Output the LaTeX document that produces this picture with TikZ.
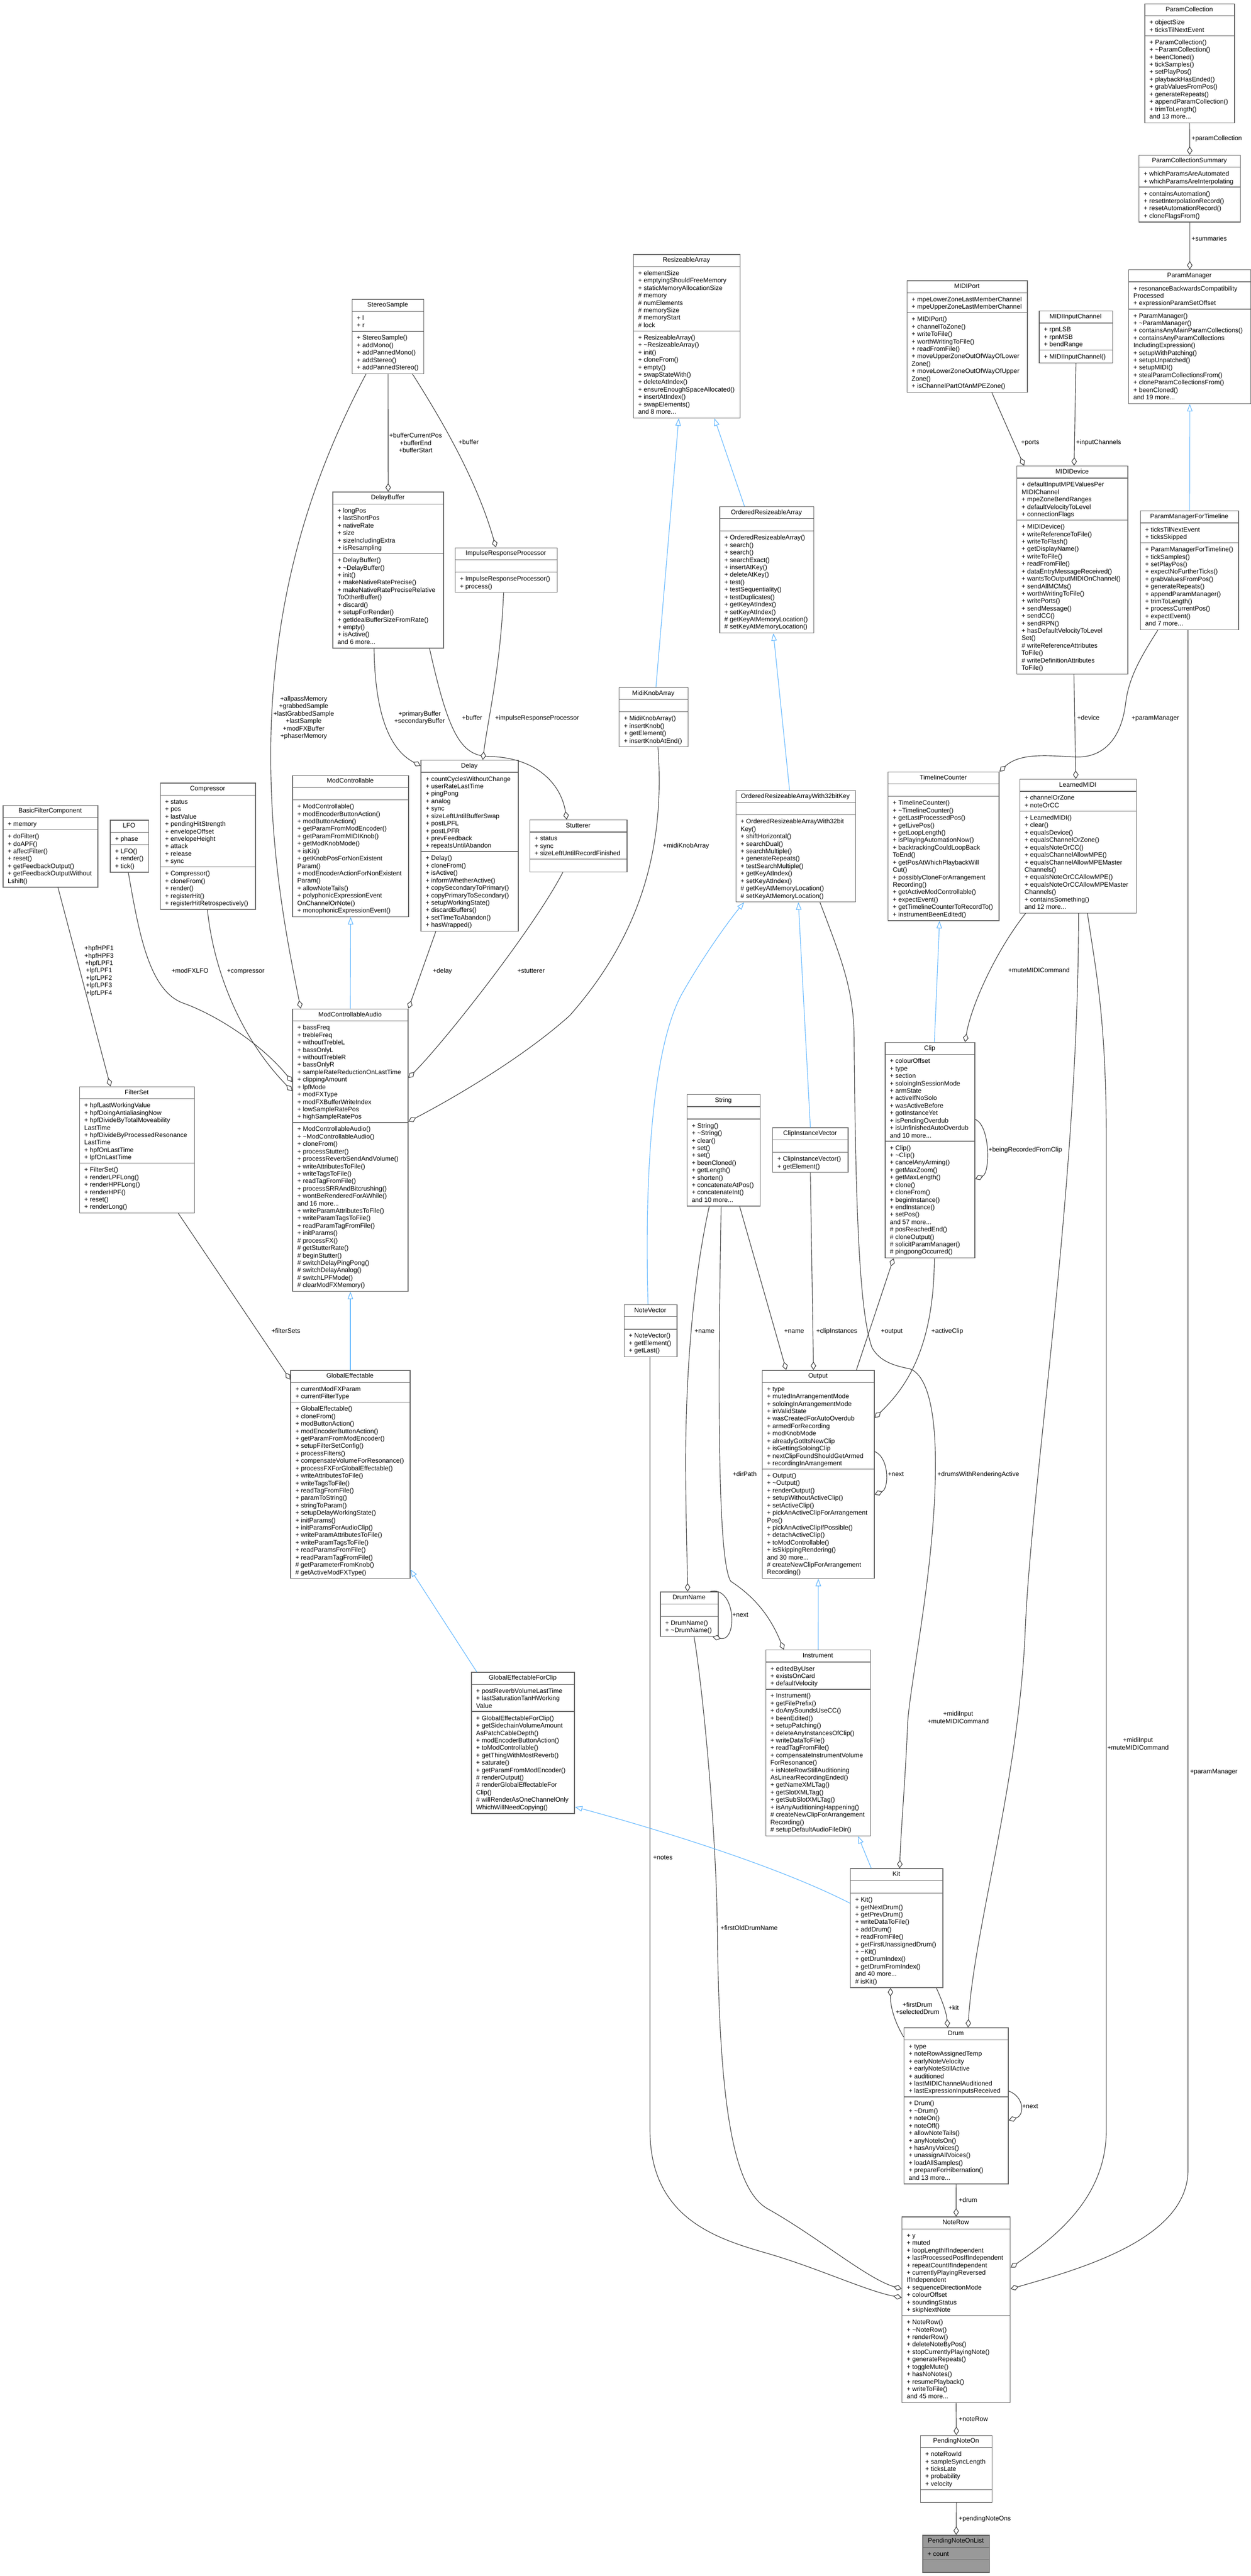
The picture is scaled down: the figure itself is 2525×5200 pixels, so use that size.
\documentclass[tikz,border=0pt]{standalone}
\usepackage{fontspec}
\setmainfont{Liberation Sans}
\usetikzlibrary{arrows.meta,calc}
\definecolor{boxgray}{HTML}{666666}
\definecolor{edgegray}{HTML}{404040}
\definecolor{inhblue}{HTML}{63B8FF}
\definecolor{fillgray}{HTML}{999999}
\newcommand\tld{\textasciitilde}
\tikzset{
  clsbox/.style={draw=boxgray, fill=white, line width=1.4pt, inner sep=0pt, rectangle},
  sepline/.style={draw=boxgray, line width=1.4pt},
  ttl/.style={font=\fontsize{13}{15}\selectfont, inner sep=0pt, text height=9.5pt, text depth=2.5pt, anchor=center},
  mbr/.style={font=\fontsize{13}{15}\selectfont, inner sep=0pt, align=left, anchor=north west},
  agg/.style={draw=edgegray, line width=1.2pt, -{Diamond[fill=white, length=17pt, width=11pt]}},
  inh/.style={draw=inhblue, line width=1.2pt, -{Triangle[fill=white, length=15pt, width=11pt]}},
  lbl/.style={font=\fontsize{13}{15}\selectfont, inner sep=0pt, text height=9.5pt, text depth=2.5pt},
  lblm/.style={font=\fontsize{13}{15}\selectfont, inner sep=0pt, align=center},
}
% #1 id, #2 x, #3 y, #4 w, #5 title, #6 n attr, #7 attrs, #8 n meth, #9 methods
\newcommand\ucls[9]{%
  \pgfmathsetmacro\uha{15*max(#6,1)+10}%
  \pgfmathsetmacro\uhm{15*max(#8,1)+10}%
  \pgfmathsetmacro\uht{25+\uha+\uhm}%
  \node[clsbox, minimum width=#4, minimum height=\uht, anchor=north west] (#1) at (#2,#3) {};
  \draw[sepline] (#2,#3+25) -- ++(#4,0);
  \draw[sepline] (#2,#3+25+\uha) -- ++(#4,0);
  \node[ttl] (#1-t) at (#2+#4/2,#3+12.5) {#5};
  \node[mbr] (#1-a) at (#2+10,#3+30.5) {\rule{0pt}{12pt}#7};
  \node[mbr] (#1-m) at (#2+10,#3+30.5+\uha) {\rule{0pt}{12pt}#9};
}
\begin{document}
\begin{tikzpicture}[x=1pt,y=-1pt]
\fill[white] (0,0) rectangle (2525,5200);
\useasboundingbox (0,0) rectangle (2525,5200);

% ---------------- classes ----------------
\ucls{pc}{2310}{7}{181}{ParamCollection}{2}{+ objectSize\\+ ticksTilNextEvent}{11}{+ ParamCollection()\\+ \tld ParamCollection()\\+ beenCloned()\\+ tickSamples()\\+ setPlayPos()\\+ playbackHasEnded()\\+ grabValuesFromPos()\\+ generateRepeats()\\+ appendParamCollection()\\+ trimToLength()\\and 13 more...}
\ucls{pcs}{2298.5}{312.6}{204.5}{ParamCollectionSummary}{2}{+ whichParamsAreAutomated\\+ whichParamsAreInterpolating}{4}{+ containsAutomation()\\+ resetInterpolationRecord()\\+ resetAutomationRecord()\\+ cloneFlagsFrom()}
\ucls{pm}{2277.6}{544}{246.4}{ParamManager}{3}{+ resonanceBackwardsCompatibility\\Processed\\+ expressionParamSetOffset}{12}{+ ParamManager()\\+ \tld ParamManager()\\+ containsAnyMainParamCollections()\\+ containsAnyParamCollections\\IncludingExpression()\\+ setupWithPatching()\\+ setupUnpatched()\\+ setupMIDI()\\+ stealParamCollectionsFrom()\\+ cloneParamCollectionsFrom()\\+ beenCloned()\\and 19 more...}
\ucls{pmt}{2301.4}{1030.7}{198.2}{ParamManagerForTimeline}{2}{+ ticksTilNextEvent\\+ ticksSkipped}{11}{+ ParamManagerForTimeline()\\+ tickSamples()\\+ setPlayPos()\\+ expectNoFurtherTicks()\\+ grabValuesFromPos()\\+ generateRepeats()\\+ appendParamManager()\\+ trimToLength()\\+ processCurrentPos()\\+ expectEvent()\\and 7 more...}
\ucls{mport}{1830}{566}{243}{MIDIPort}{2}{+ mpeLowerZoneLastMemberChannel\\+ mpeUpperZoneLastMemberChannel}{10}{+ MIDIPort()\\+ channelToZone()\\+ writeToFile()\\+ worthWritingToFile()\\+ readFromFile()\\+ moveUpperZoneOutOfWayOfLower\\Zone()\\+ moveLowerZoneOutOfWayOfUpper\\Zone()\\+ isChannelPartOfAnMPEZone()}
\ucls{mic}{2097}{627}{148}{MIDIInputChannel}{3}{+ rpnLSB\\+ rpnMSB\\+ bendRange}{1}{+ MIDIInputChannel()}
\ucls{mdev}{2052}{940}{224}{MIDIDevice}{5}{+ defaultInputMPEValuesPer\\MIDIChannel\\+ mpeZoneBendRanges\\+ defaultVelocityToLevel\\+ connectionFlags}{20}{+ MIDIDevice()\\+ writeReferenceToFile()\\+ writeToFlash()\\+ getDisplayName()\\+ writeToFile()\\+ readFromFile()\\+ dataEntryMessageReceived()\\+ wantsToOutputMIDIOnChannel()\\+ sendAllMCMs()\\+ worthWritingToFile()\\+ writePorts()\\+ sendMessage()\\+ sendCC()\\+ sendRPN()\\+ hasDefaultVelocityToLevel\\Set()\\\# writeReferenceAttributes\\ToFile()\\\# writeDefinitionAttributes\\ToFile()}
\ucls{lmidi}{2058}{1572.4}{235}{LearnedMIDI}{2}{+ channelOrZone\\+ noteOrCC}{13}{+ LearnedMIDI()\\+ clear()\\+ equalsDevice()\\+ equalsChannelOrZone()\\+ equalsNoteOrCC()\\+ equalsChannelAllowMPE()\\+ equalsChannelAllowMPEMaster\\Channels()\\+ equalsNoteOrCCAllowMPE()\\+ equalsNoteOrCCAllowMPEMaster\\Channels()\\+ containsSomething()\\and 12 more...}
\ucls{tc}{1792}{1557.6}{224}{TimelineCounter}{0}{}{16}{+ TimelineCounter()\\+ \tld TimelineCounter()\\+ getLastProcessedPos()\\+ getLivePos()\\+ getLoopLength()\\+ isPlayingAutomationNow()\\+ backtrackingCouldLoopBack\\ToEnd()\\+ getPosAtWhichPlaybackWill\\Cut()\\+ possiblyCloneForArrangement\\Recording()\\+ getActiveModControllable()\\+ expectEvent()\\+ getTimelineCounterToRecordTo()\\+ instrumentBeenEdited()}
\ucls{ra}{1278}{513}{215}{ResizeableArray}{8}{+ elementSize\\+ emptyingShouldFreeMemory\\+ staticMemoryAllocationSize\\\# memory\\\# numElements\\\# memorySize\\\# memoryStart\\\# lock}{11}{+ ResizeableArray()\\+ \tld ResizeableArray()\\+ init()\\+ cloneFrom()\\+ empty()\\+ swapStateWith()\\+ deleteAtIndex()\\+ ensureEnoughSpaceAllocated()\\+ insertAtIndex()\\+ swapElements()\\and 8 more...}
\ucls{ora}{1452}{1022}{190}{OrderedResizeableArray}{0}{}{13}{+ OrderedResizeableArray()\\+ search()\\+ search()\\+ searchExact()\\+ insertAtKey()\\+ deleteAtKey()\\+ test()\\+ testSequentiality()\\+ testDuplicates()\\+ getKeyAtIndex()\\+ setKeyAtIndex()\\\# getKeyAtMemoryLocation()\\\# setKeyAtMemoryLocation()}
\ucls{mka}{1249}{1387}{139}{MidiKnobArray}{0}{}{4}{+ MidiKnobArray()\\+ insertKnob()\\+ getElement()\\+ insertKnobAtEnd()}
\ucls{oraw}{1484.7}{1595}{241.3}{OrderedResizeableArrayWith32bitKey}{0}{}{11}{+ OrderedResizeableArrayWith32bit\\Key()\\+ shiftHorizontal()\\+ searchDual()\\+ searchMultiple()\\+ generateRepeats()\\+ testSearchMultiple()\\+ getKeyAtIndex()\\+ setKeyAtIndex()\\\# getKeyAtMemoryLocation()\\\# setKeyAtMemoryLocation()}
\ucls{ss}{710}{603.6}{145}{StereoSample}{2}{+ l\\+ r}{5}{+ StereoSample()\\+ addMono()\\+ addPannedMono()\\+ addStereo()\\+ addPannedStereo()}
\ucls{db}{671}{992.6}{223.6}{DelayBuffer}{6}{+ longPos\\+ lastShortPos\\+ nativeRate\\+ size\\+ sizeIncludingExtra\\+ isResampling}{12}{+ DelayBuffer()\\+ \tld DelayBuffer()\\+ init()\\+ makeNativeRatePrecise()\\+ makeNativeRatePreciseRelative\\ToOtherBuffer()\\+ discard()\\+ setupForRender()\\+ getIdealBufferSizeFromRate()\\+ empty()\\+ isActive()\\and 6 more...}
\ucls{irp}{918}{1105}{206}{ImpulseResponseProcessor}{0}{}{2}{+ ImpulseResponseProcessor()\\+ process()}
\ucls{delay}{849}{1534}{196.5}{Delay}{10}{+ countCyclesWithoutChange\\+ userRateLastTime\\+ pingPong\\+ analog\\+ sync\\+ sizeLeftUntilBufferSwap\\+ postLPFL\\+ postLPFR\\+ prevFeedback\\+ repeatsUntilAbandon}{10}{+ Delay()\\+ cloneFrom()\\+ isActive()\\+ informWhetherActive()\\+ copySecondaryToPrimary()\\+ copyPrimaryToSecondary()\\+ setupWorkingState()\\+ discardBuffers()\\+ setTimeToAbandon()\\+ hasWrapped()}
\ucls{stut}{1069}{1654.5}{196}{Stutterer}{3}{+ status\\+ sync\\+ sizeLeftUntilRecordFinished}{0}{}
\ucls{mc}{590}{1564.7}{234}{ModControllable}{0}{}{15}{+ ModControllable()\\+ modEncoderButtonAction()\\+ modButtonAction()\\+ getParamFromModEncoder()\\+ getParamFromMIDIKnob()\\+ getModKnobMode()\\+ isKit()\\+ getKnobPosForNonExistent\\Param()\\+ modEncoderActionForNonExistent\\Param()\\+ allowNoteTails()\\+ polyphonicExpressionEvent\\OnChannelOrNote()\\+ monophonicExpressionEvent()}
\ucls{comp}{323}{1580}{192}{Compressor}{9}{+ status\\+ pos\\+ lastValue\\+ pendingHitStrength\\+ envelopeOffset\\+ envelopeHeight\\+ attack\\+ release\\+ sync}{5}{+ Compressor()\\+ cloneFrom()\\+ render()\\+ registerHit()\\+ registerHitRetrospectively()}
\ucls{lfo}{222}{1655}{77}{LFO}{1}{+ phase}{3}{+ LFO()\\+ render()\\+ tick()}
\ucls{bfc}{5.6}{1625}{191.4}{BasicFilterComponent}{1}{+ memory}{7}{+ doFilter()\\+ doAPF()\\+ affectFilter()\\+ reset()\\+ getFeedbackOutput()\\+ getFeedbackOutputWithout\\Lshift()}
\ucls{mca}{590}{2036}{233}{ModControllableAudio}{13}{+ bassFreq\\+ trebleFreq\\+ withoutTrebleL\\+ bassOnlyL\\+ withoutTrebleR\\+ bassOnlyR\\+ sampleRateReductionOnLastTime\\+ clippingAmount\\+ lpfMode\\+ modFXType\\+ modFXBufferWriteIndex\\+ lowSampleRatePos\\+ highSampleRatePos}{22}{+ ModControllableAudio()\\+ \tld ModControllableAudio()\\+ cloneFrom()\\+ processStutter()\\+ processReverbSendAndVolume()\\+ writeAttributesToFile()\\+ writeTagsToFile()\\+ readTagFromFile()\\+ processSRRAndBitcrushing()\\+ wontBeRenderedForAWhile()\\and 16 more...\\+ writeParamAttributesToFile()\\+ writeParamTagsToFile()\\+ readParamTagFromFile()\\+ initParams()\\\# processFX()\\\# getStutterRate()\\\# beginStutter()\\\# switchDelayPingPong()\\\# switchDelayAnalog()\\\# switchLPFMode()\\\# clearModFXMemory()}
\ucls{fs}{160}{2193}{232}{FilterSet}{8}{+ hpfLastWorkingValue\\+ hpfDoingAntialiasingNow\\+ hpfDivideByTotalMoveability\\LastTime\\+ hpfDivideByProcessedResonance\\LastTime\\+ hpfOnLastTime\\+ lpfOnLastTime}{6}{+ FilterSet()\\+ renderLPFLong()\\+ renderHPFLong()\\+ renderHPF()\\+ reset()\\+ renderLong()}
\ucls{ge}{586}{2765.6}{241}{GlobalEffectable}{2}{+ currentModFXParam\\+ currentFilterType}{23}{+ GlobalEffectable()\\+ cloneFrom()\\+ modButtonAction()\\+ modEncoderButtonAction()\\+ getParamFromModEncoder()\\+ setupFilterSetConfig()\\+ processFilters()\\+ compensateVolumeForResonance()\\+ processFXForGlobalEffectable()\\+ writeAttributesToFile()\\+ writeTagsToFile()\\+ readTagFromFile()\\+ paramToString()\\+ stringToParam()\\+ setupDelayWorkingState()\\+ initParams()\\+ initParamsForAudioClip()\\+ writeParamAttributesToFile()\\+ writeParamTagsToFile()\\+ readParamsFromFile()\\+ readParamTagFromFile()\\\# getParameterFromKnob()\\\# getActiveModFXType()}
\ucls{gefc}{951}{3375}{208}{GlobalEffectableForClip}{3}{+ postReverbVolumeLastTime\\+ lastSaturationTanHWorking\\Value}{13}{+ GlobalEffectableForClip()\\+ getSidechainVolumeAmount\\AsPatchCableDepth()\\+ modEncoderButtonAction()\\+ toModControllable()\\+ getThingWithMostReverb()\\+ saturate()\\+ getParamFromModEncoder()\\\# renderOutput()\\\# renderGlobalEffectableFor\\Clip()\\\# willRenderAsOneChannelOnly\\WhichWillNeedCopying()}
\ucls{out}{1538}{2765.5}{226}{Output}{11}{+ type\\+ mutedInArrangementMode\\+ soloingInArrangementMode\\+ inValidState\\+ wasCreatedForAutoOverdub\\+ armedForRecording\\+ modKnobMode\\+ alreadyGotItsNewClip\\+ isGettingSoloingClip\\+ nextClipFoundShouldGetArmed\\+ recordingInArrangement}{14}{+ Output()\\+ \tld Output()\\+ renderOutput()\\+ setupWithoutActiveClip()\\+ setActiveClip()\\+ pickAnActiveClipForArrangement\\Pos()\\+ pickAnActiveClipIfPossible()\\+ detachActiveClip()\\+ toModControllable()\\+ isSkippingRendering()\\and 30 more...\\\# createNewClipForArrangement\\Recording()}
\ucls{str}{1386}{2209}{148}{String}{0}{}{11}{+ String()\\+ \tld String()\\+ clear()\\+ set()\\+ set()\\+ beenCloned()\\+ getLength()\\+ shorten()\\+ concatenateAtPos()\\+ concatenateInt()\\and 10 more...}
\ucls{civ}{1559}{2276}{152}{ClipInstanceVector}{0}{}{2}{+ ClipInstanceVector()\\+ getElement()}
\ucls{clip}{1786}{2103.6}{181}{Clip}{11}{+ colourOffset\\+ type\\+ section\\+ soloingInSessionMode\\+ armState\\+ activeIfNoSolo\\+ wasActiveBefore\\+ gotInstanceYet\\+ isPendingOverdub\\+ isUnfinishedAutoOverdub\\and 10 more...}{15}{+ Clip()\\+ \tld Clip()\\+ cancelAnyArming()\\+ getMaxZoom()\\+ getMaxLength()\\+ clone()\\+ cloneFrom()\\+ beginInstance()\\+ endInstance()\\+ setPos()\\and 57 more...\\\# posReachedEnd()\\\# cloneOutput()\\\# solicitParamManager()\\\# pingpongOccurred()}
\ucls{nv}{1259}{2633}{107}{NoteVector}{0}{}{3}{+ NoteVector()\\+ getElement()\\+ getLast()}
\ucls{dn}{1332.6}{3212.7}{116.4}{DrumName}{0}{}{2}{+ DrumName()\\+ \tld DrumName()}
\ucls{inst}{1545}{3330}{211.6}{Instrument}{3}{+ editedByUser\\+ existsOnCard\\+ defaultVelocity}{19}{+ Instrument()\\+ getFilePrefix()\\+ doAnySoundsUseCC()\\+ beenEdited()\\+ setupPatching()\\+ deleteAnyInstancesOfClip()\\+ writeDataToFile()\\+ readTagFromFile()\\+ compensateInstrumentVolume\\ForResonance()\\+ isNoteRowStillAuditioning\\AsLinearRecordingEnded()\\+ getNameXMLTag()\\+ getSlotXMLTag()\\+ getSubSlotXMLTag()\\+ isAnyAuditioningHappening()\\\# createNewClipForArrangement\\Recording()\\\# setupDefaultAudioFileDir()}
\ucls{kit}{1716}{3771.5}{186.6}{Kit}{0}{}{12}{+ Kit()\\+ getNextDrum()\\+ getPrevDrum()\\+ writeDataToFile()\\+ addDrum()\\+ readFromFile()\\+ getFirstUnassignedDrum()\\+ \tld Kit()\\+ getDrumIndex()\\+ getDrumFromIndex()\\and 40 more...\\\# isKit()}
\ucls{drum}{1824}{4092.7}{210.7}{Drum}{7}{+ type\\+ noteRowAssignedTemp\\+ earlyNoteVelocity\\+ earlyNoteStillActive\\+ auditioned\\+ lastMIDIChannelAuditioned\\+ lastExpressionInputsReceived}{11}{+ Drum()\\+ \tld Drum()\\+ noteOn()\\+ noteOff()\\+ allowNoteTails()\\+ anyNoteIsOn()\\+ hasAnyVoices()\\+ unassignAllVoices()\\+ loadAllSamples()\\+ prepareForHibernation()\\and 13 more...}
\ucls{nr}{1820}{4474.4}{218.4}{NoteRow}{11}{+ y\\+ muted\\+ loopLengthIfIndependent\\+ lastProcessedPosIfIndependent\\+ repeatCountIfIndependent\\+ currentlyPlayingReversed\\IfIndependent\\+ sequenceDirectionMode\\+ colourOffset\\+ soundingStatus\\+ skipNextNote}{11}{+ NoteRow()\\+ \tld NoteRow()\\+ renderRow()\\+ deleteNoteByPos()\\+ stopCurrentlyPlayingNote()\\+ generateRepeats()\\+ toggleMute()\\+ hasNoNotes()\\+ resumePlayback()\\+ writeToFile()\\and 45 more...}
\ucls{pno}{1857.4}{4915.6}{144.6}{PendingNoteOn}{5}{+ noteRowId\\+ sampleSyncLength\\+ ticksLate\\+ probability\\+ velocity}{0}{}
\begin{scope}[clsbox/.append style={fill=fillgray}]
\ucls{pnol}{1862}{5117}{134.7}{PendingNoteOnList}{1}{+ count}{0}{}
\end{scope}

% ---------------- aggregation edges ----------------
\draw[agg] (pc.south) -- (pcs.north);
\draw[agg] (pcs.south) -- (pm.north);
\draw[agg] ($(mport.south west)+(172,0)$) -- ($(mdev.north west)+(15,0)$);
\draw[agg] (mic.south) -- ($(mdev.north west)+(116,0)$);
\draw[agg] ($(mdev.south west)+(115.7,0)$) -- ($(lmidi.north west)+(113.5,0)$);
\draw[agg] ($(pmt.south west)+(35.6,0)$) .. controls (2300,1330) and (2278,1370) .. (2272,1420) .. controls (2262,1500) and (2220,1530) .. (2171,1528) .. controls (2120,1526) and (2060,1518) .. (tc.north east);
\draw[agg] ($(lmidi.south west)+(12,0)$) .. controls (2010,1920) and (1960,2030) .. ($(clip.north west)+(162,0)$);
\draw[agg] ($(lmidi.south west)+(119,0)$) .. controls (2177,2400) and (2080,3000) .. (2069,3300) .. controls (2055,3600) and (1965,3900) .. ($(drum.north west)+(130,0)$);
\draw[agg] ($(lmidi.south west)+(137,0)$) .. controls (2210,1950) and (2233,2050) .. (2233,2300) -- (2233,4300) .. controls (2233,4430) and (2140,4510) .. ($(nr.north east)+(0,103)$);
\draw[agg] ($(pmt.south west)+(96.6,0)$) -- (2398,4380) .. controls (2398,4520) and (2180,4580) .. ($(nr.north east)+(0,146)$);
\draw[agg] ($(oraw.south west)+(170.3,0)$) .. controls (1700,1940) and (1724,2000) .. (1724,2100) .. controls (1727,2450) and (1735,2650) .. (1760,2720) .. controls (1775,2748) and (1805,2757) .. (1836,2763) .. controls (1872,2775) and (1888,2850) .. (1888,2950) .. controls (1890,3150) and (1836,3400) .. (1832,3480) .. controls (1827,3600) and (1818,3700) .. ($(kit.north west)+(100,0)$);
\draw[agg] ($(ss.south west)+(28.8,0)$) .. controls (620,980) and (560,1200) .. (548,1450) .. controls (538,1700) and (580,1900) .. ($(mca.north west)+(17,0)$);
\draw[agg] (ss.south) -- (db.north);
\draw[agg] ($(ss.south west)+(122.6,0)$) .. controls (880,830) and (960,960) .. ($(irp.north west)+(83,0)$);
\draw[agg] ($(db.south west)+(84,0)$) .. controls (757,1450) and (790,1515) .. ($(delay.north west)+(0,12)$);
\draw[agg] ($(db.south west)+(196,0)$) .. controls (905,1480) and (930,1525) .. (985,1527) .. controls (1080,1528) and (1132,1580) .. ($(stut.north west)+(75,0)$);
\draw[agg] ($(irp.south west)+(98.5,0)$) .. controls (1010,1350) and (985,1450) .. ($(delay.north west)+(125.5,0)$);
\draw[agg] ($(bfc.south west)+(111.4,0)$) -- ($(fs.north west)+(63,0)$);
\draw[agg] ($(lfo.south west)+(37,0)$) .. controls (280,1880) and (300,2000) .. (370,2025) .. controls (440,2050) and (530,2110) .. ($(mca.north west)+(0,148)$);
\draw[agg] ($(comp.south west)+(95.7,0)$) .. controls (430,1950) and (480,2090) .. ($(mca.north west)+(0,166.5)$);
\draw[agg] ($(delay.south west)+(30.6,0)$) -- (mca.north east);
\draw[agg] ($(stut.south west)+(67,0)$) .. controls (1080,1870) and (900,2100) .. ($(mca.north east)+(0,140)$);
\draw[agg] ($(mka.south west)+(79,0)$) .. controls (1342,1700) and (1300,1880) .. (1150,2050) .. controls (1050,2140) and (900,2225) .. ($(mca.north east)+(0,228)$);
\draw[agg] ($(fs.south west)+(200,0)$) -- ($(ge.north west)+(0,19.4)$);
\draw[agg] ($(str.south west)+(107,0)$) -- ($(out.north west)+(49,0)$);
\draw[agg] ($(str.south west)+(45.6,0)$) .. controls (1395,2600) and (1384,2800) .. (1384,2950) .. controls (1384,3050) and (1387,3150) .. ($(dn.north west)+(55.4,0)$);
\draw[agg] ($(str.south west)+(69.6,0)$) .. controls (1449,2800) and (1448,3150) .. (1475,3192) .. controls (1510,3215) and (1550,3250) .. ($(inst.north west)+(37,0)$);
\draw[agg] (civ.south) -- ($(out.north west)+(104,0)$);
\draw[agg] ($(out.north west)+(190.6,0)$) -- ($(clip.south west)+(17.6,0)$);
\draw[agg] ($(clip.south west)+(100,0)$) .. controls (1885,2720) and (1830,2800) .. ($(out.north east)+(0,96.5)$);
\draw[agg] ($(clip.north east)+(0,156)$) .. controls (1999,2272) and (1999,2368) .. ($(clip.north east)+(0,276.5)$);
\draw[agg] ($(out.north east)+(0,164.5)$) .. controls (1795,2942) and (1795,3005) .. ($(out.north east)+(0,251.5)$);
\draw[agg] ($(dn.north east)+(-17,0)$) .. controls (1485,3200) and (1490,3315) .. ($(dn.south east)+(-12,0)$);
\draw[agg] ($(nv.south west)+(53,0)$) -- (1312,4300) .. controls (1312,4480) and (1450,4520) .. (1550,4549) .. controls (1650,4578) and (1750,4625) .. ($(nr.north west)+(0,163.6)$);
\draw[agg] ($(dn.south west)+(68.4,0)$) .. controls (1420,3420) and (1446,3700) .. (1448,3900) .. controls (1452,4250) and (1480,4420) .. (1550,4459) .. controls (1650,4515) and (1750,4600) .. ($(nr.north west)+(0,146)$);
\draw[agg] ($(drum.north west)+(0,19.3)$) .. controls (1805,4080) and (1797,4050) .. ($(kit.south west)+(81.5,0)$);
\draw[agg] ($(kit.south west)+(174,0)$) .. controls (1900,4035) and (1910,4060) .. ($(drum.north west)+(89,0)$);
\draw[agg] ($(drum.north east)+(0,128.3)$) .. controls (2068,4233) and (2068,4270) .. ($(drum.north east)+(0,187.3)$);
\draw[agg] (drum.south) -- (nr.north);
\draw[agg] (nr.south) -- (pno.north);
\draw[agg] (pno.south) -- (pnol.north);

% ---------------- inheritance edges ----------------
\draw[inh] (pmt.north) -- (pm.south);
\draw[inh] ($(mka.north west)+(75,0)$) -- ($(ra.south west)+(92,0)$);
\draw[inh] ($(ora.north west)+(50.7,0)$) -- ($(ra.south west)+(164,0)$);
\draw[inh] ($(oraw.north west)+(109,0)$) -- ($(ora.south west)+(109,0)$);
\draw[inh] ($(nv.north west)+(49,0)$) .. controls (1300,2350) and (1320,2100) .. (1380,2000) .. controls (1420,1930) and (1470,1860) .. ($(oraw.south west)+(17.3,0)$);
\draw[inh] (civ.north) -- ($(oraw.south west)+(126.8,0)$);
\draw[inh] ($(clip.north west)+(100,0)$) -- ($(tc.south west)+(104.4,0)$);
\draw[inh] (mca.north) -- (mc.south);
\draw[inh] (ge.north) -- (mca.south);
\draw[inh] ($(gefc.north west)+(11.4,0)$) -- ($(ge.south east)+(0,-19)$);
\draw[inh] (inst.north) -- (out.south);
\draw[inh] ($(kit.north west)+(42.7,0)$) -- ($(inst.south west)+(187,0)$);
\draw[inh] ($(kit.north west)+(0,70.5)$) .. controls (1560,3762) and (1300,3685) .. ($(gefc.south east)+(0,-14)$);

% ---------------- labels ----------------
\node[lbl, anchor=west] (l1) at (2405,280) {+paramCollection};
\node[lbl, anchor=west] (l2) at (2405,482.6) {+summaries};
\node[lbl, anchor=west] (l3) at (2061,893) {+ports};
\node[lbl, anchor=west] (l4) at (2172,893) {+inputChannels};
\node[lbl, anchor=west] (l5) at (2174,1450) {+device};
\node[lbl, anchor=west] (l6) at (2284,1450) {+paramManager};
\node[lbl, anchor=west] (l7) at (2035,1959) {+muteMIDICommand};
\node[lbl, anchor=west] (l8) at (1338,1708) {+midiKnobArray};
\node[lblm] (l9) at (839,894) {+bufferCurrentPos\\+bufferEnd\\+bufferStart};
\node[lbl] (l10) at (946,893.5) {+buffer};
\node[lblm] (l11) at (613,1449) {+allpassMemory\\+grabbedSample\\+lastGrabbedSample\\+lastSample\\+modFXBuffer\\+phaserMemory};
\node[lblm] (l12) at (847,1449) {+primaryBuffer\\+secondaryBuffer};
\node[lbl] (l13) at (953,1449.6) {+buffer};
\node[lbl] (l14) at (1084,1449.6) {+impulseResponseProcessor};
\node[lblm] (l15) at (200,1960) {+hpfHPF1\\+hpfHPF3\\+hpfLPF1\\+lpfLPF1\\+lpfLPF2\\+lpfLPF3\\+lpfLPF4};
\node[lbl] (l16) at (383.5,1960) {+modFXLFO};
\node[lbl] (l17) at (496,1960) {+compressor};
\node[lbl] (l18) at (893,1960) {+delay};
\node[lbl, anchor=west] (l19) at (1044,1960) {+stutterer};
\node[lbl] (l20) at (577,2687) {+filterSets};
\node[lbl] (l21) at (1422,2687) {+name};
\node[lbl] (l22) at (1603,2687) {+name};
\node[lbl] (l23) at (1689,2687) {+clipInstances};
\node[lbl] (l24) at (1800,2687) {+output};
\node[lbl] (l25) at (1912,2687) {+activeClip};
\node[lbl, anchor=west] (l26) at (1995,2321.6) {+beingRecordedFromClip};
\node[lbl] (l27) at (1503,2977) {+dirPath};
\node[lbl, anchor=west] (l28) at (1792,2977) {+next};
\node[lbl, anchor=west] (l29) at (1892,2977) {+drumsWithRenderingActive};
\node[lbl, anchor=west] (l30) at (1478,3260) {+next};
\node[lblm] (l31) at (1934,3467) {+midiInput\\+muteMIDICommand};
\node[lblm] (l32) at (2297,3520) {+midiInput\\+muteMIDICommand};
\node[lbl, anchor=west] (l33) at (2402,3577) {+paramManager};
\node[lbl, anchor=west] (l34) at (1318,3750) {+notes};
\node[lbl] (l35) at (1512,3893) {+firstOldDrumName};
\node[lblm] (l36) at (1852,4054) {+firstDrum\\+selectedDrum};
\node[lbl] (l37) at (1925,4054.5) {+kit};
\node[lbl, anchor=west] (l38) at (2063,4253) {+next};
\node[lbl, anchor=west] (l39) at (1935,4442) {+drum};
\node[lbl, anchor=west] (l40) at (1935,4884) {+noteRow};
\node[lbl, anchor=west] (l41) at (1935,5085) {+pendingNoteOns};
\end{tikzpicture}
\end{document}
